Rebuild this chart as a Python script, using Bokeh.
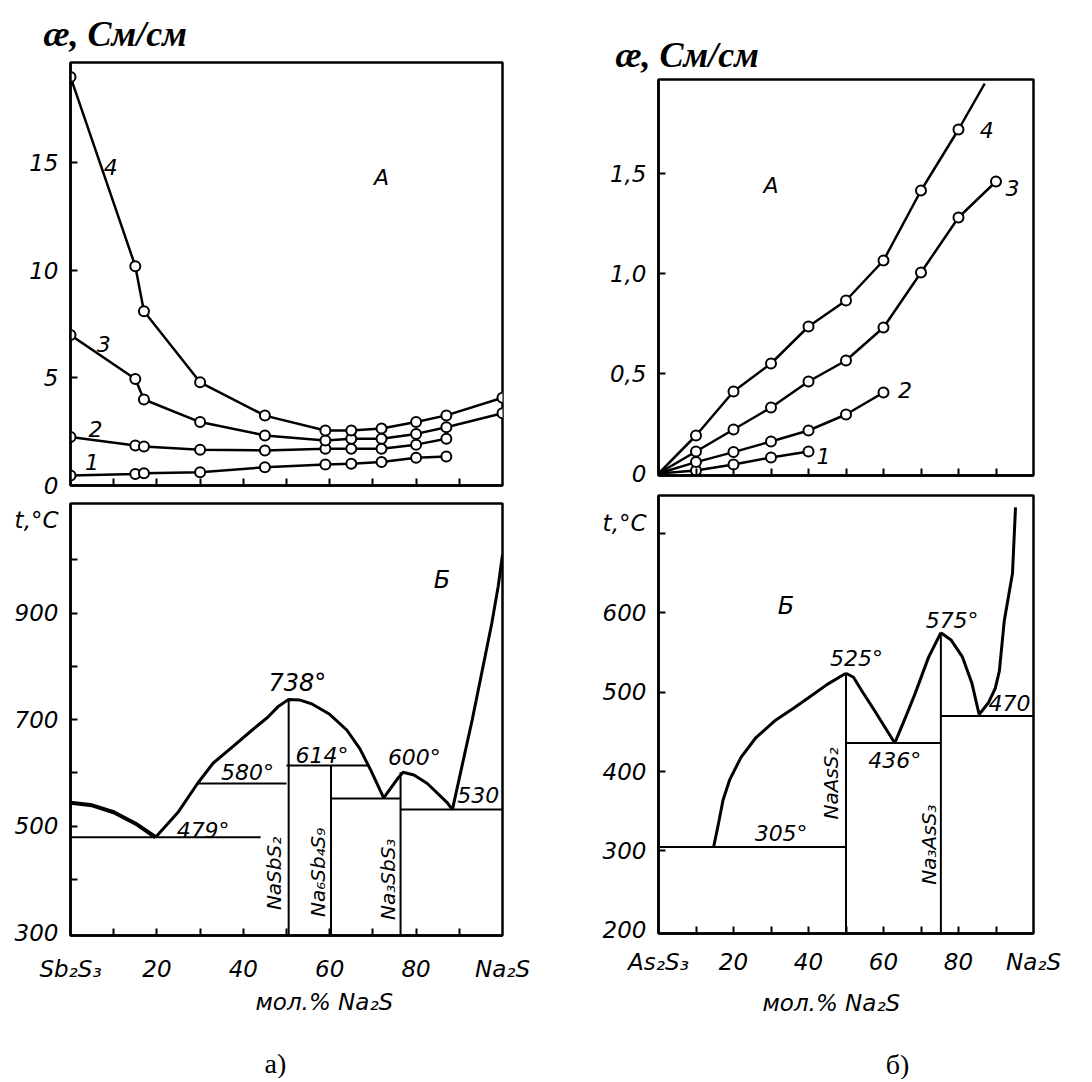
import math
from bokeh.plotting import figure
from bokeh.layouts import row, column
from bokeh.models import FixedTicker, Range1d, Label, Title
from bokeh.embed import file_html
from bokeh.resources import INLINE

# ---------------- data: panel a) Sb2S3 - Na2S ----------------
# A: conductivity, S/cm, curves 1..4
sb_x = [0, 15, 17, 30, 45, 59, 65, 72, 80, 87, 100]
sb_k4 = [19.0, 10.2, 8.1, 4.8, 3.25, 2.56, 2.56, 2.65, 2.95, 3.26, 4.08]
sb_k3 = [7.0, 4.95, 4.0, 2.95, 2.33, 2.09, 2.17, 2.17, 2.4, 2.71, 3.36]
sb_x12 = [0, 15, 17, 30, 45, 59, 65, 72, 80, 87]
sb_k2 = [2.25, 1.86, 1.81, 1.66, 1.63, 1.71, 1.71, 1.71, 1.9, 2.17]
sb_k1 = [0.47, 0.54, 0.57, 0.62, 0.85, 0.98, 1.01, 1.09, 1.29, 1.35]

# Б: phase diagram, t in °C
sb_liq1_x = [0, 5, 10, 15, 19.7]
sb_liq1_t = [544, 539, 526, 505, 479]
sb_liq2_x = [19.7, 25, 29.4, 33, 37.7, 42, 45.6, 48, 50.5, 53, 56, 60, 64, 67, 69.5, 72.5]
sb_liq2_t = [479, 527, 580, 618, 650, 680, 704, 724, 738, 737, 729, 710, 680, 645, 605, 553]
sb_liq3_x = [72.5, 75.9, 77, 79.5, 82.6, 87.2, 88.4]
sb_liq3_t = [553, 591, 601, 596, 580, 544, 531]
sb_liq4_x = [88.4, 93, 97.5, 99, 100]
sb_liq4_t = [531, 700, 880, 950, 1010]
sb_h_x0 = [0, 29.4, 50, 60.3, 76.4]
sb_h_x1 = [44, 50, 69, 76.4, 100]
sb_h_t = [479, 580, 614, 552, 531]
sb_v_x = [50.5, 60.3, 76.4]
sb_v_t = [738, 614, 601]
sb_compounds = ["NaSbS₂", "Na₆Sb₄S₉", "Na₃SbS₃"]

# ---------------- data: panel б) As2S3 - Na2S ----------------
as_x = [0, 10, 20, 30, 40, 50, 60, 70, 80, 87]
as_k4 = [0, 0.19, 0.41, 0.55, 0.735, 0.865, 1.065, 1.415, 1.72, 1.95]
as_x3 = [0, 10, 20, 30, 40, 50, 60, 70, 80, 90]
as_k3 = [0, 0.11, 0.22, 0.33, 0.46, 0.565, 0.73, 1.005, 1.28, 1.46]
as_x2 = [0, 10, 20, 30, 40, 50, 60]
as_k2 = [0, 0.057, 0.107, 0.16, 0.215, 0.295, 0.405]
as_x1 = [0, 10, 20, 30, 40]
as_k1 = [0, 0.015, 0.045, 0.08, 0.11]

as_liq1_x = [14.7, 15.8, 17.2, 19, 22, 26, 31, 36, 40, 45, 50]
as_liq1_t = [305, 330, 364, 390, 418, 443, 464, 480, 493, 510, 524]
as_liq2_x = [50, 52, 54.2, 57.6, 60.5, 63]
as_liq2_t = [524, 519, 502, 477, 455, 436]
as_liq3_x = [63, 66, 68.4, 72, 75.3]
as_liq3_t = [436, 470, 498, 544, 575]
as_liq4_x = [75.3, 78, 81, 83.6, 85.5]
as_liq4_t = [575, 566, 545, 511, 472]
as_liq5_x = [85.5, 88, 89.8, 90.9, 92.2, 94.4, 95.2]
as_liq5_t = [472, 487, 505, 527, 590, 650, 733]
as_h_x0 = [0, 50, 75.3]
as_h_x1 = [50, 75.3, 100]
as_h_t = [305, 436, 470]
as_v_x = [50, 75.3]
as_v_t = [524, 575]
as_compounds = ["NaAsS₂", "Na₃AsS₃"]

captions = ["а)", "б)"]

TICK_FONT = "DejaVu Sans"
TICKS10 = list(range(10, 100, 10))


def make_fig(xr, yr, fw, fh, bl, br, bt, bb):
    p = figure(x_range=Range1d(*xr), y_range=Range1d(*yr),
               frame_width=fw, frame_height=fh,
               min_border_left=bl, min_border_right=br,
               min_border_top=bt, min_border_bottom=bb,
               output_backend="svg", toolbar_location=None,
               background_fill_color="white", border_fill_color="white")
    p.xgrid.visible = False
    p.ygrid.visible = False
    p.outline_line_color = "black"
    p.outline_line_width = 2.5
    p.outline_line_alpha = 1
    for ax in (p.xaxis[0], p.yaxis[0]):
        ax.axis_line_width = 2.5
        ax.major_tick_in = 0
        ax.major_tick_out = 0
        ax.minor_tick_in = 7
        ax.minor_tick_out = 0
        ax.minor_tick_line_width = 2
        ax.minor_tick_line_color = "black"
        ax.major_label_text_font = TICK_FONT
        ax.major_label_text_font_style = "italic"
        ax.major_label_text_font_size = "23px"
        ax.major_label_text_color = "black"
    return p


def txt(p, x, y, s, size="22px", font=TICK_FONT, style="italic", align="center",
        baseline="middle", angle=0.0):
    p.add_layout(Label(x=x, y=y, text=s, text_font=font, text_font_style=style,
                       text_font_size=size, text_align=align, text_baseline=baseline,
                       angle=angle, text_color="black"))


def title(p, s, side, offset, standoff, size, font, style):
    p.add_layout(Title(text=s, align="left", offset=offset, standoff=standoff,
                       text_font=font, text_font_style=style, text_font_size=size,
                       text_color="black"), side)


def line_and_points(p, xs, ys, start=0, end=None):
    p.line(xs, ys, line_color="black", line_width=2.5)
    p.scatter(xs[start:end], ys[start:end], marker="circle", size=10, fill_color="white",
              line_color="black", line_width=2)


def caption_fig(w, h, bl, br, xc, yc, s):
    c = figure(x_range=Range1d(0, w), y_range=Range1d(0, h), frame_width=w, frame_height=h,
               min_border_left=bl, min_border_right=br, min_border_top=0, min_border_bottom=0,
               x_axis_location=None, y_axis_location=None,
               output_backend="svg", toolbar_location=None,
               background_fill_color="white", border_fill_color="white")
    c.xgrid.visible = False
    c.ygrid.visible = False
    c.outline_line_color = None
    txt(c, xc, yc, s, size="28px", font="Liberation Serif", style="normal")
    return c


# ---------- a) top ----------
pa = make_fig((0, 100), (0, 19.67), 432, 423, 70, 38, 62, 14)
pa.xaxis[0].ticker = FixedTicker(ticks=[], minor_ticks=TICKS10)
pa.yaxis[0].ticker = FixedTicker(ticks=[0, 5, 10, 15], minor_ticks=[5, 10, 15])
pa.yaxis[0].major_label_standoff = 12
line_and_points(pa, sb_x12, sb_k1)
line_and_points(pa, sb_x12, sb_k2)
line_and_points(pa, sb_x, sb_k3)
line_and_points(pa, sb_x, sb_k4)
txt(pa, 9.3, 14.8, "4")
txt(pa, 7.7, 6.6, "3")
txt(pa, 5.8, 2.65, "2")
txt(pa, 5.0, 1.07, "1")
txt(pa, 72, 14.3, "А")
title(pa, "æ, См/см", "above", -27, 18, "36px", "Liberation Serif", "bold italic")

# ---------- a) bottom ----------
pb = make_fig((0, 100), (294.4, 1106), 432, 432, 70, 38, 4, 85)
pb.xaxis[0].ticker = FixedTicker(ticks=[0, 20, 40, 60, 80, 100], minor_ticks=TICKS10)
pb.xaxis[0].major_label_overrides = {0: "Sb₂S₃", 100: "Na₂S"}
pb.xaxis[0].major_label_standoff = 20
pb.yaxis[0].ticker = FixedTicker(ticks=[300, 500, 700, 900, 1075],
                                 minor_ticks=list(range(400, 1001, 100)))
pb.yaxis[0].major_label_overrides = {1075: "t,°C"}
pb.yaxis[0].major_label_standoff = 12
pb.line(sb_liq1_x, sb_liq1_t, line_color="black", line_width=4)
for xs, ts in ((sb_liq2_x, sb_liq2_t), (sb_liq3_x, sb_liq3_t), (sb_liq4_x, sb_liq4_t)):
    pb.line(xs, ts, line_color="black", line_width=3)
pb.segment(x0=sb_h_x0, y0=sb_h_t, x1=sb_h_x1, y1=sb_h_t, line_color="black", line_width=2)
pb.segment(x0=sb_v_x, y0=[294.4] * len(sb_v_x), x1=sb_v_x, y1=sb_v_t, line_color="black", line_width=2)
txt(pb, 52.5, 768, "738°", size="24px")
txt(pb, 41, 601, "580°")
txt(pb, 58.2, 633, "614°")
txt(pb, 79.6, 629, "600°")
txt(pb, 94.4, 558, "530")
txt(pb, 30.7, 492, "479°")
txt(pb, 86, 962, "Б", size="24px")
txt(pb, 47, 411, sb_compounds[0], size="20px", angle=math.pi / 2)
txt(pb, 57.4, 413, sb_compounds[1], size="20px", angle=math.pi / 2)
txt(pb, 73.6, 400, sb_compounds[2], size="20px", angle=math.pi / 2)
title(pb, "мол.% Na₂S", "below", 185, 4, "23px", TICK_FONT, "italic")

# ---------- б) top ----------
pc = make_fig((0, 100), (-0.01, 1.97), 375, 396, 118, 52, 79, 14)
pc.xaxis[0].ticker = FixedTicker(ticks=[], minor_ticks=TICKS10)
pc.yaxis[0].ticker = FixedTicker(ticks=[0, 0.5, 1.0, 1.5], minor_ticks=[0.5, 1.0, 1.5])
pc.yaxis[0].major_label_overrides = {0: "0", 0.5: "0,5", 1.0: "1,0", 1.5: "1,5"}
pc.yaxis[0].major_label_standoff = 12
line_and_points(pc, as_x1, as_k1, start=1)
line_and_points(pc, as_x2, as_k2, start=1)
line_and_points(pc, as_x3, as_k3, start=1)
line_and_points(pc, as_x, as_k4, start=1, end=-1)
txt(pc, 87.5, 1.72, "4")
txt(pc, 94.4, 1.43, "3")
txt(pc, 65.7, 0.42, "2")
txt(pc, 44, 0.09, "1")
txt(pc, 30, 1.44, "А")
title(pc, "æ, См/см", "above", -43, 10, "36px", "Liberation Serif", "bold italic")

# ---------- б) bottom ----------
pd_ = make_fig((0, 100), (196, 748), 375, 438, 118, 52, 6, 92)
pd_.xaxis[0].ticker = FixedTicker(ticks=[0, 20, 40, 60, 80, 100], minor_ticks=TICKS10)
pd_.xaxis[0].major_label_overrides = {0: "As₂S₃", 100: "Na₂S"}
pd_.xaxis[0].major_label_standoff = 15
pd_.yaxis[0].ticker = FixedTicker(ticks=[200, 300, 400, 500, 600, 713],
                                  minor_ticks=list(range(300, 701, 100)))
pd_.yaxis[0].major_label_overrides = {713: "t,°C"}
pd_.yaxis[0].major_label_standoff = 12
for xs, ts in ((as_liq1_x, as_liq1_t), (as_liq2_x, as_liq2_t), (as_liq3_x, as_liq3_t),
               (as_liq4_x, as_liq4_t), (as_liq5_x, as_liq5_t)):
    pd_.line(xs, ts, line_color="black", line_width=3)
pd_.segment(x0=as_h_x0, y0=as_h_t, x1=as_h_x1, y1=as_h_t, line_color="black", line_width=2)
pd_.segment(x0=as_v_x, y0=[196] * len(as_v_x), x1=as_v_x, y1=as_v_t, line_color="black", line_width=2)
txt(pd_, 32.7, 322, "305°")
txt(pd_, 52.8, 543, "525°")
txt(pd_, 63, 414, "436°")
txt(pd_, 78.3, 590, "575°")
txt(pd_, 93.6, 486, "470")
txt(pd_, 34, 609, "Б", size="24px")
txt(pd_, 46.1, 385, as_compounds[0], size="20px", angle=math.pi / 2)
txt(pd_, 72.1, 308, as_compounds[1], size="20px", angle=math.pi / 2)
title(pd_, "мол.% Na₂S", "below", 104, 20, "23px", TICK_FONT, "italic")

cap_a = caption_fig(432, 58, 70, 38, 205, 15, captions[0])
cap_b = caption_fig(375, 54, 118, 52, 239, 15, captions[1])

layout = row(column(pa, pb, cap_a), column(pc, pd_, cap_b))
open("out.html", "w").write(file_html(layout, INLINE))
